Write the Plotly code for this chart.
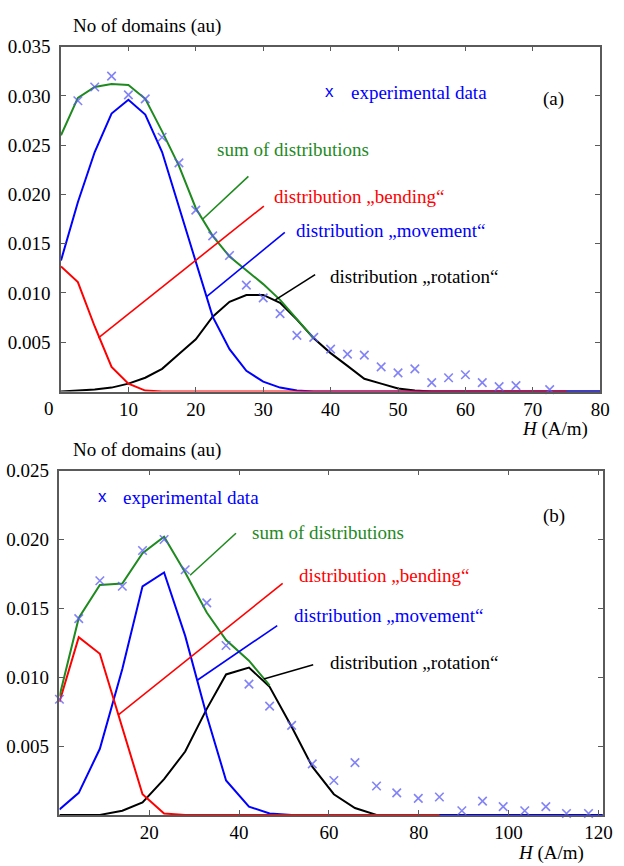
import plotly.graph_objects as go

# ---------------- panel (a) data ----------------
H_a = [0, 2.5, 5, 7.5, 10, 12.5, 15, 17.5, 20, 22.5, 25, 27.5, 30, 32.5, 35, 37.5,
       40, 42.5, 45, 47.5, 50, 52.5, 55, 57.5, 60, 62.5, 65, 67.5, 70, 72.5, 75, 77.5, 80]
movement_a = [0.0133, 0.0192, 0.0243, 0.0282, 0.0296, 0.0281, 0.0243, 0.0188, 0.0133, 0.0076,
              0.0043, 0.0021, 0.0010, 0.0004, 0.0001, 0, 0, 0, 0, 0, 0, 0, 0, 0, 0, 0, 0, 0,
              0, 0, 0, 0, 0]
bending_a = [0.0127, 0.0111, 0.0066, 0.0025, 0.0008, 0.0001, 0, 0, 0, 0, 0, 0, 0, 0, 0, 0,
             0, 0, 0, 0, 0, 0, 0, 0, 0, 0, 0, 0, 0, 0, 0]
rotation_a = [0, 0.0001, 0.0002, 0.0004, 0.0008, 0.0014, 0.0023, 0.0038, 0.0053, 0.0076,
              0.0091, 0.0098, 0.0098, 0.0090, 0.0073, 0.0054, 0.0039, 0.0026, 0.0013, 0.0008,
              0.0003, 0.0001, 0, 0, 0, 0, 0, 0, 0, 0, 0, 0, 0]
sum_a = [0.0260, 0.0298, 0.0309, 0.0312, 0.0311, 0.0297, 0.0264, 0.0229, 0.0186, 0.0158,
         0.0137, 0.0123, 0.0109, 0.0093, 0.0074, 0.0054]
exp_H_a = [2.5, 5, 7.5, 10, 12.5, 15, 17.5, 20, 22.5, 25, 27.5, 30, 32.5, 35, 37.5, 40,
           42.5, 45, 47.5, 50, 52.5, 55, 57.5, 60, 62.5, 65, 67.5, 72.5]
exp_a = [0.0295, 0.0309, 0.0320, 0.0301, 0.0297, 0.0258, 0.0232, 0.0184, 0.0158, 0.0138,
         0.0108, 0.0095, 0.0079, 0.0057, 0.0055, 0.0043, 0.0038, 0.0037, 0.0025, 0.0019,
         0.0023, 0.0009, 0.0014, 0.0017, 0.0009, 0.0005, 0.0006, 0.0002]
ticks_x_a = [10, 20, 30, 40, 50, 60, 70, 80]
ticks_y_a = [0.005, 0.010, 0.015, 0.020, 0.025, 0.030, 0.035]

# ---------------- panel (b) data ----------------
H_b = [0, 4.3, 9.0, 14.0, 18.5, 23.3, 28.0, 32.8, 37.1, 42.2, 46.8, 51.7, 56.3, 61.1, 65.8,
       70.6, 75.1, 79.9, 84.6, 89.6, 94.2, 98.8, 103.6, 108.3, 112.9, 117.8, 121]
movement_b = [0.0004, 0.0016, 0.0048, 0.0106, 0.0166, 0.0176, 0.0130, 0.0072, 0.0025, 0.0006,
              0.0001, 0, 0, 0, 0, 0, 0, 0, 0, 0, 0, 0, 0, 0, 0, 0, 0]
bending_b = [0.0082, 0.0129, 0.0117, 0.0063, 0.0015, 0.0001, 0, 0, 0, 0, 0, 0, 0, 0, 0, 0,
             0, 0, 0]
rotation_b = [0, 0, 0, 0.0003, 0.0009, 0.0026, 0.0046, 0.0077, 0.0102, 0.0107, 0.0093,
              0.0064, 0.0035, 0.0015, 0.0005, 0]
sum_b = [0.0086, 0.0143, 0.0167, 0.0168, 0.0190, 0.0202, 0.0176, 0.0147, 0.0127, 0.0112, 0.0094]
exp_H_b = [0, 4.3, 9.0, 14.0, 18.5, 23.3, 28.0, 32.8, 37.1, 42.2, 46.8, 51.7, 56.3, 61.1,
           65.8, 70.6, 75.1, 79.9, 84.6, 89.6, 94.2, 98.8, 103.6, 108.3, 112.9, 117.8]
exp_b = [0.0084, 0.01425, 0.0170, 0.0166, 0.0192, 0.0200, 0.0178, 0.0154, 0.0123, 0.0095,
         0.0079, 0.0065, 0.0037, 0.0025, 0.0038, 0.0021, 0.0016, 0.0012, 0.0013, 0.0003,
         0.0010, 0.0006, 0.0003, 0.0006, 0.0001, 0.0001]
ticks_x_b = [20, 40, 60, 80, 100, 120]
ticks_y_b = [0.005, 0.010, 0.015, 0.020, 0.025]

# ---------------- styles ----------------
W, Hh = 624, 866
SERIF = "'Liberation Serif', 'Times New Roman', serif"
SANS = "'Liberation Sans', Arial, sans-serif"
FS = 19
BLUE, RED, GREEN, BLACK = "#0000ff", "#ff0000", "#1f8a1f", "#000000"
MARK = "rgba(90,90,245,0.75)"
AX = "#5a5a5a"


def px(x):
    return x / W


def py(y):
    return 1 - y / Hh


fig = go.Figure()


def curves(xs, mv, bd, rt, sm, ex_x, ex_y, xa, ya):
    fig.add_trace(go.Scatter(x=xs[:len(rt)], y=rt, mode="lines", line=dict(color=BLACK, width=2),
                             xaxis=xa, yaxis=ya, cliponaxis=False))
    fig.add_trace(go.Scatter(x=xs[:len(mv)], y=mv, mode="lines", line=dict(color=BLUE, width=2),
                             xaxis=xa, yaxis=ya, cliponaxis=False))
    fig.add_trace(go.Scatter(x=xs[:len(bd)], y=bd, mode="lines", line=dict(color=RED, width=2),
                             xaxis=xa, yaxis=ya, cliponaxis=False))
    fig.add_trace(go.Scatter(x=xs[:len(sm)], y=sm, mode="lines", line=dict(color=GREEN, width=2),
                             xaxis=xa, yaxis=ya, cliponaxis=False))
    fig.add_trace(go.Scatter(x=ex_x, y=ex_y, mode="markers",
                             marker=dict(symbol="x-thin-open", size=8.5, color=MARK,
                                         line=dict(color=MARK, width=1.6)),
                             xaxis=xa, yaxis=ya, cliponaxis=False))


curves(H_a, movement_a, bending_a, rotation_a, sum_a, exp_H_a, exp_a, "x", "y")
curves(H_b, movement_b, bending_b, rotation_b, sum_b, exp_H_b, exp_b, "x2", "y2")

axis_common = dict(showgrid=False, zeroline=False, showline=True, linecolor=AX, linewidth=1.5,
                   mirror="allticks", ticks="inside", ticklen=5, tickcolor=AX, tickwidth=1.2,
                   tickfont=dict(family=SERIF, size=FS, color="black"))

fig.update_layout(
    width=W, height=Hh, margin=dict(l=0, r=0, t=0, b=0),
    paper_bgcolor="white", plot_bgcolor="white", showlegend=False,
    xaxis=dict(domain=[px(62), px(610)], range=[0, 80], tickvals=ticks_x_a,
               ticktext=[str(v) for v in ticks_x_a], anchor="y", ticklabelstandoff=0,
               **axis_common),
    yaxis=dict(domain=[py(386), py(37)], range=[0, 0.035], tickvals=ticks_y_a,
               ticktext=["%.3f" % v for v in ticks_y_a], anchor="x", ticklabelstandoff=5,
               **axis_common),
    xaxis2=dict(domain=[px(60.4), px(612.7)], range=[0, 121], tickvals=ticks_x_b,
                ticktext=[str(v) for v in ticks_x_b], anchor="y2", ticklabelstandoff=0,
                **axis_common),
    yaxis2=dict(domain=[py(814.3), py(466)], range=[0, 0.025], tickvals=ticks_y_b,
                ticktext=["%.3f" % v for v in ticks_y_b], anchor="x2", ticklabelstandoff=5,
                **axis_common),
)

anns = []


def txt(text, x, y, color="black", xanchor="left", size=FS, family=SERIF):
    anns.append(dict(text=text, x=px(x), y=py(y), xref="paper", yref="paper",
                     xanchor=xanchor, yanchor="middle", showarrow=False,
                     font=dict(family=family, size=size, color=color)))


# panel (a) texts
txt("No of domains (au)", 72, 16)
txt("0", 50, 403, xanchor="center")
txt("<i>H</i> (A/m)", 600, 424, xanchor="right")
txt("x", 335, 82, color=BLUE, xanchor="center", size=17, family=SANS)
txt("experimental data", 355, 83, color=BLUE)
txt("(a)", 563, 90, xanchor="center")
txt("sum of distributions", 218, 141, color=GREEN)
txt("distribution \u201ebending\u201c", 276, 189, color=RED)
txt("distribution \u201emovement\u201c", 299, 223, color=BLUE)
txt("distribution \u201erotation\u201c", 333, 270)

# panel (b) texts
txt("No of domains (au)", 72, 445)
txt("<i>H</i> (A/m)", 596, 853, xanchor="right")
txt("x", 104, 492, color=BLUE, xanchor="center", size=17, family=SANS)
txt("experimental data", 123, 493, color=BLUE)
txt("(b)", 563, 512, xanchor="center")
txt("sum of distributions", 254, 529, color=GREEN)
txt("distribution \u201ebending\u201c", 302, 572, color=RED)
txt("distribution \u201emovement\u201c", 297, 613, color=BLUE)
txt("distribution \u201erotation\u201c", 333, 660)

fig.update_layout(annotations=anns)

# leader lines (data coordinates)
leaders = [
    ("x", "y", 21.0, 0.01748, 27.8, 0.02183, GREEN),
    ("x", "y", 5.55, 0.00545, 30.1, 0.01882, RED),
    ("x", "y", 21.6, 0.00963, 33.2, 0.01615, BLUE),
    ("x", "y", 31.8, 0.00930, 37.7, 0.01186, BLACK),
    ("x2", "y2", 29.1, 0.0174, 39.3, 0.02045, GREEN),
    ("x2", "y2", 13.05, 0.00725, 49.7, 0.01681, RED),
    ("x2", "y2", 30.6, 0.00976, 48.5, 0.01375, BLUE),
    ("x2", "y2", 45.5, 0.00987, 56.5, 0.0109, BLACK),
]
for xr, yr, x0, y0, x1, y1, c in leaders:
    fig.add_shape(type="line", xref=xr, yref=yr, x0=x0, y0=y0, x1=x1, y1=y1,
                  line=dict(color=c, width=1.6))

fig.write_html(
    "out.html",
    config={"displayModeBar": False},
    post_script="document.body.style.margin='0';document.body.style.overflow='hidden';",
)
